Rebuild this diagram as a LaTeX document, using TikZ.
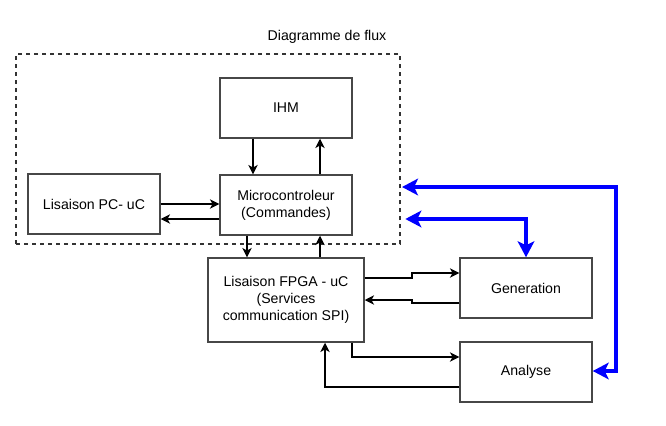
\documentclass[tikz,border=0pt]{standalone}
\usepackage{fontspec}
\setmainfont{Liberation Sans}
\usetikzlibrary{arrows.meta}
\begin{document}
\begin{tikzpicture}[x=0.75pt,y=-0.75pt,
  txt/.style={font=\fontsize{10.6pt}{12.6pt}\selectfont},
  box/.style={draw=black!72,line width=1.1pt,fill=white,minimum width=99pt,minimum height=45pt,align=center,txt,inner sep=2pt},
  arr/.style={draw=black,line width=0.9pt,-{Stealth[length=7pt,width=7pt,inset=2pt]}},
  blue arr/.style={draw=blue,line width=2.5pt,{Stealth[length=12pt,width=12.5pt,inset=3pt]}-{Stealth[length=12pt,width=12.5pt,inset=3pt]}}]
\useasboundingbox (0,0) rectangle (666,425);
% container
\node[draw=black!80,dashed,line width=1pt,minimum width=288pt,minimum height=142.5pt,inner sep=0pt] (flux) at (208,149) {};
\node[txt] (title) at (327,37) {Diagramme de flux};
% boxes
\node[box] (ihm) at (286,108) {IHM};
\node[box] (mic) at (286,205) {Microcontroleur\\(Commandes)};
\node[box] (pc) at (94,204) {Lisaison PC- uC};
\node[box,minimum width=117pt,minimum height=63pt] (fpga) at (286,300) {Lisaison FPGA - uC\\(Services\\communication SPI)};
\node[box] (gen) at (526,288) {Generation};
\node[box] (ana) at (526,372) {Analyse};
% IHM <-> Mic
\draw[arr] (ihm.south -| 253,0) -- (mic.north -| 253,0);
\draw[arr] (mic.north -| 320,0) -- (ihm.south -| 320,0);
% PC <-> Mic
\draw[arr] (pc.east |- 0,204) -- (mic.west |- 0,204);
\draw[arr] (mic.west |- 0,219) -- (pc.east |- 0,219);
% Mic <-> FPGA
\draw[arr] (mic.south -| 247,0) -- (fpga.north -| 247,0);
\draw[arr] (fpga.north -| 320,0) -- (mic.south -| 320,0);
% FPGA <-> Gen
\draw[arr] (fpga.east |- 0,278) -- (412,278) -- (412,273) -- (gen.west |- 0,273);
\draw[arr] (gen.west |- 0,303) -- (412,303) -- (412,300) -- (fpga.east |- 0,300);
% FPGA <-> Ana
\draw[arr] (fpga.south -| 352,0) -- (352,357) -- (ana.west |- 0,357);
\draw[arr] (ana.west |- 0,387) -- (325,387) -- (fpga.south -| 325,0);
% blue
\coordinate (b1) at ([xshift=1pt]flux.east |- 0,187);
\coordinate (b2) at ([xshift=3.5pt]flux.east |- 0,219);
\draw[blue arr] (b1) -- (616,187) -- (616,371) -- (ana.east |- 0,371);
\draw[blue arr] (b2) -- (526,219) -- (gen.north);
\end{tikzpicture}
\end{document}
